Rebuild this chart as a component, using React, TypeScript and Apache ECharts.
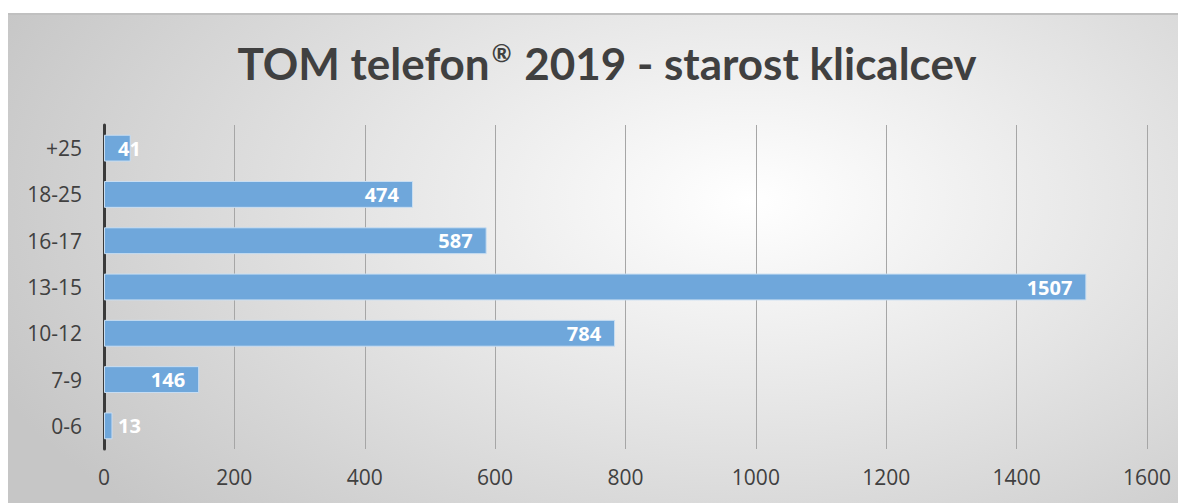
import React, { useEffect, useRef } from "react";
import * as echarts from "echarts";

const categories = ["0-6", "7-9", "10-12", "13-15", "16-17", "18-25", "+25"];
const values = [13, 146, 784, 1507, 587, 474, 41];
const xTicks = [0, 200, 400, 600, 800, 1000, 1200, 1400, 1600];
const titleMain = "TOM telefon";
const titleSup = "®";
const titleRest = " 2019 - starost klicalcev";

export default function App() {
  const ref = useRef<HTMLDivElement>(null);
  useEffect(() => {
    if (!ref.current) return;
    const chart = echarts.init(ref.current, null, { renderer: "svg" });
    const font = "'Open Sans', sans-serif";
    chart.setOption({
      animation: false,
      backgroundColor: "transparent",
      title: {
        text: `{m|${titleMain}}{s|${titleSup}}{m|${titleRest}}`,
        left: 594,
        textAlign: "center",
        top: 16,
        textStyle: {
          fontFamily: "Lato, sans-serif",
          fontWeight: "bold",
          fontSize: 44,
          color: "#404040",
          rich: {
            m: { fontFamily: "Lato, sans-serif", fontWeight: "bold", fontSize: 44, color: "#404040", lineHeight: 54 },
            s: {
              fontFamily: "Lato, sans-serif",
              fontWeight: "bold",
              fontSize: 24,
              color: "#404040",
              lineHeight: 54,
              padding: [0, 2, 22, 2],
            },
          },
        },
      },
      grid: { left: 96, right: 39, top: 110, bottom: 54, containLabel: false },
      xAxis: {
        type: "value",
        min: xTicks[0],
        max: xTicks[xTicks.length - 1],
        interval: 200,
        axisLine: { show: false },
        axisTick: { show: false },
        splitLine: { show: true, lineStyle: { color: "#a6a6a6", width: 1 } },
        axisLabel: {
          fontFamily: font,
          fontSize: 21,
          color: "#404040",
          margin: 17,
          formatter: (v: number) => String(v),
        },
      },
      yAxis: {
        type: "category",
        data: categories,
        axisLine: { show: true, lineStyle: { color: "#3a3a3a", width: 3 } },
        axisTick: { show: false },
        axisLabel: { fontFamily: font, fontSize: 21, color: "#404040", margin: 22 },
      },
      series: [
        {
          type: "bar",
          barCategoryGap: "42%",
          data: values.map((v) => ({
            value: v,
            label:
              v < 100
                ? { position: "insideLeft", distance: 14 }
                : { position: "insideRight", distance: 14 },
          })),
          itemStyle: { color: "#6fa7db", borderColor: "#c9def2", borderWidth: 1 },
          label: {
            show: true,
            color: "#ffffff",
            fontFamily: font,
            fontWeight: "bold",
            fontSize: 20,
            formatter: (p: any) => String(p.value),
          },
        },
      ],
    });
    return () => chart.dispose();
  }, []);
  return (
    <div
      ref={ref}
      style={{
        width: 1178,
        height: 490,
        marginTop: 5,
        borderTop: "2px solid #c0c0c0",
        boxSizing: "border-box",
        background:
          "radial-gradient(ellipse 70% 95% at 63% 38%, #ffffff 0%, #e6e6e6 45%, #c6c6c6 100%)",
      }}
    />
  );
}
